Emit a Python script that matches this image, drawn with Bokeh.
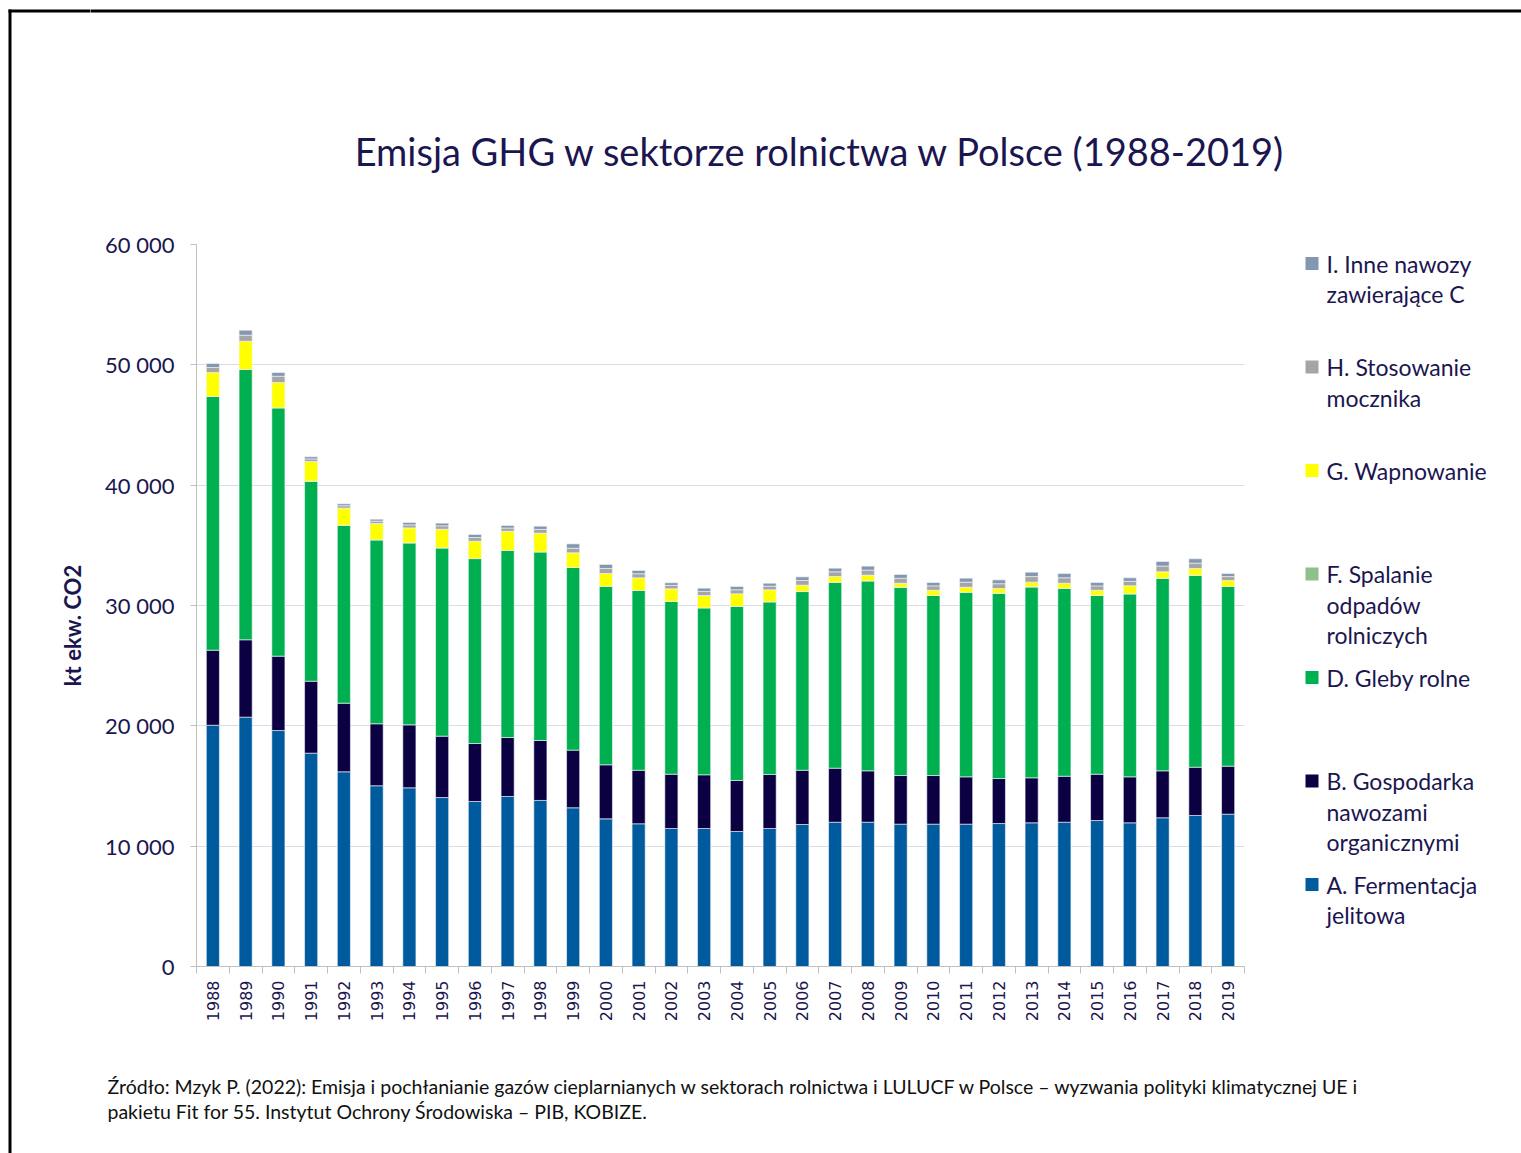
import math
from bokeh.plotting import figure
from bokeh.layouts import column, row
from bokeh.models import ColumnDataSource, FixedTicker, CustomJSTickFormatter, Range1d
from bokeh.core.properties import value
from bokeh.embed import file_html
from bokeh.resources import INLINE

# ---------------- data (kt CO2 eq.) ----------------
years = list(range(1988, 2020))
year_labels = [str(y) for y in years]

A_ferm = [20050, 20720, 19610, 17730, 16180, 15020, 14850, 14040, 13710, 14130, 13800, 13190,
          12270, 11860, 11470, 11470, 11220, 11470, 11800, 11990, 11990, 11830, 11830, 11830,
          11880, 11940, 11990, 12130, 11940, 12360, 12550, 12660]
B_manure = [6235, 6430, 6180, 5980, 5700, 5150, 5230, 5100, 4820, 4900, 4980, 4790,
            4490, 4450, 4510, 4460, 4240, 4490, 4510, 4490, 4270, 4040, 4040, 3930,
            3740, 3740, 3820, 3850, 3820, 3900, 4010, 3990]
D_soils = [21085, 22460, 20640, 16620, 14790, 15290, 15130, 15650, 15370, 15540, 15680, 15180,
           14840, 14940, 14350, 13880, 14460, 14350, 14850, 15460, 15790, 15650, 14960, 15350,
           15400, 15870, 15630, 14850, 15210, 16010, 15960, 14930]
F_burning = [0] * 32
G_liming = [1990, 2350, 2100, 1640, 1420, 1350, 1240, 1550, 1440, 1600, 1550, 1220,
            1060, 1050, 1060, 1020, 1050, 990, 530, 470, 470, 330, 440, 410,
            390, 390, 410, 440, 670, 530, 550, 500]
H_urea = [415, 500, 520, 210, 200, 200, 250, 280, 310, 270, 320, 380,
          420, 340, 280, 340, 340, 310, 390, 390, 420, 410, 360, 420,
          400, 460, 450, 360, 370, 480, 450, 320]
I_other = [335, 420, 310, 180, 160, 160, 200, 220, 250, 210, 260, 360,
           330, 270, 220, 270, 270, 240, 300, 300, 330, 320, 280, 330,
           320, 370, 360, 280, 290, 380, 360, 260]

series_keys = ["A", "B", "D", "F", "G", "H", "I"]
series_colors = ["#005A9E", "#0B0042", "#00B050", "#8DC08A", "#FFFF00", "#A5A5A5", "#8497B0"]
legend_texts = [
    ["I.  Inne nawozy", "zawierające C"],
    ["H. Stosowanie", "mocznika"],
    ["G. Wapnowanie"],
    ["F.  Spalanie", "odpadów", "rolniczych"],
    ["D.  Gleby rolne"],
    ["B.  Gospodarka", "nawozami", "organicznymi"],
    ["A.  Fermentacja", "jelitowa"],
]
legend_colors = ["#8497B0", "#A5A5A5", "#FFFF00", "#8DC08A", "#00B050", "#0B0042", "#005A9E"]
y_ticks = [0, 10000, 20000, 30000, 40000, 50000, 60000]

title_text = "Emisja GHG w sektorze rolnictwa w Polsce (1988-2019)"
y_label_text = "kt ekw. CO2"
source_lines = [
    "Źródło: Mzyk P. (2022): Emisja i pochłanianie gazów cieplarnianych w sektorach rolnictwa i LULUCF w Polsce – wyzwania polityki klimatycznej UE i",
    "pakietu Fit for 55. Instytut Ochrony Środowiska – PIB, KOBIZE.",
]

# ---------------- layout constants (page pixels) ----------------
W, H = 1521, 1153
STRIP_W = 90                      # left strip 0..90 (full height)
TOP_H, BOT_Y = 200, 1040          # top block 0..200, middle 200..1040, bottom 1040..1153
LEG_X = 1290                      # main 90..1290, legend 1290..1521
FL, FR, FT, FB = 196, 1244, 244, 966   # plot frame edges
NAVY = "#1B1650"
FONT = "Lato"


def canvas(w, h, x0, y0, bt=0, bb=0):
    """A figure whose frame fills its canvas, with page-pixel coordinates (y down)."""
    f = figure(width=w, height=h, output_backend="svg", toolbar_location=None,
               x_range=Range1d(x0, x0 + w), y_range=Range1d(y0 + h - bb, y0 + bt),
               x_axis_location=None, y_axis_location=None,
               min_border_left=0, min_border_right=0,
               min_border_top=bt, min_border_bottom=bb)
    f.title = None
    f.outline_line_color = None
    f.grid.grid_line_color = None
    f.background_fill_color = "white"
    f.border_fill_color = "white"
    return f


# ---------------- left strip: page border + y-axis title ----------------
strip = canvas(STRIP_W, H, 0, 0)
strip.quad(left=[8, 8], right=[STRIP_W + 5, 11], top=[9, 9], bottom=[12, H],
           fill_color="black", line_color=None)
strip.text(x=[72], y=[625], text=[y_label_text], text_font=value(FONT),
           text_font_size=value("22px"), text_font_style="bold", text_color=NAVY,
           text_align="center", text_baseline="middle", angle=math.pi / 2)

# ---------------- top block: title ----------------
top = canvas(W - STRIP_W, TOP_H, STRIP_W, 0)
top.quad(left=[STRIP_W - 5], right=[W + 5], top=[9], bottom=[12], fill_color="black", line_color=None)
top.text(x=[820], y=[150], text=[title_text], text_font=value(FONT),
         text_font_size=value("38px"), text_color=NAVY,
         text_align="center", text_baseline="middle")

# ---------------- main chart ----------------
src = ColumnDataSource(dict(year=years, A=A_ferm, B=B_manure, D=D_soils, F=F_burning,
                            G=G_liming, H=H_urea, I=I_other))

p = figure(width=LEG_X - STRIP_W, height=BOT_Y - TOP_H, output_backend="svg", toolbar_location=None,
           x_range=Range1d(years[0] - 0.5, years[-1] + 0.5),
           y_range=Range1d(0, 60000),
           min_border_left=FL - STRIP_W, min_border_right=LEG_X - FR,
           min_border_top=FT - TOP_H, min_border_bottom=BOT_Y - FB)
p.title = None
p.outline_line_color = None
p.background_fill_color = "white"
p.border_fill_color = "white"

p.vbar_stack(series_keys, x="year", width=0.4, source=src, color=series_colors,
             line_color="#F4F6FA", line_width=0.6)

p.xgrid.grid_line_color = None
p.ygrid.grid_line_color = "#DCDCE8"
p.ygrid.grid_line_width = 1
p.ygrid.ticker = FixedTicker(ticks=y_ticks)

p.yaxis.ticker = FixedTicker(ticks=y_ticks)
p.yaxis.formatter = CustomJSTickFormatter(
    code="return tick.toFixed(0).replace(/\\B(?=(\\d{3})+(?!\\d))/g, ' ');")
p.yaxis.axis_line_color = "#BFBFBF"
p.yaxis.major_tick_line_color = "#BFBFBF"
p.yaxis.major_tick_in = 0
p.yaxis.major_tick_out = 6
p.yaxis.minor_tick_line_color = None
p.yaxis.major_label_text_font = FONT
p.yaxis.major_label_text_font_size = "22px"
p.yaxis.major_label_text_color = NAVY
p.yaxis.major_label_standoff = 16

p.xaxis.ticker = FixedTicker(ticks=years, minor_ticks=[y - 0.5 for y in years] + [years[-1] + 0.5])
p.xaxis.major_label_overrides = {y: s for y, s in zip(years, year_labels)}
p.xaxis.axis_line_color = "#BFBFBF"
p.xaxis.major_tick_line_color = None
p.xaxis.minor_tick_line_color = "#BFBFBF"
p.xaxis.minor_tick_in = 0
p.xaxis.minor_tick_out = 7
p.xaxis.major_label_orientation = math.pi / 2
p.xaxis.major_label_text_font = "DejaVu Sans"
p.xaxis.major_label_text_font_size = "16px"
p.xaxis.major_label_text_color = NAVY
p.xaxis.major_label_standoff = 7

# ---------------- legend block (frame aligned with the main frame) ----------------
leg = canvas(W - LEG_X, BOT_Y - TOP_H, LEG_X, TOP_H, bt=FT - TOP_H, bb=BOT_Y - FB)
item_y0, item_step, line_step = 263, 103.5, 30.5
sq_l, sq_r, sq_t, sq_b, tx, ty, tt = [], [], [], [], [], [], []
for i, lines in enumerate(legend_texts):
    yc = item_y0 + i * item_step
    sq_l.append(1305); sq_r.append(1318); sq_t.append(yc - 6.5); sq_b.append(yc + 6.5)
    for j, t in enumerate(lines):
        tx.append(1326); ty.append(yc + j * line_step); tt.append(t)
leg.quad(left=sq_l, right=sq_r, top=sq_t, bottom=sq_b, fill_color=legend_colors, line_color=None)
leg.text(x=tx, y=ty, text=tt, text_font=value(FONT), text_font_size=value("23px"),
         text_color=NAVY, text_align="left", text_baseline="middle")

# ---------------- bottom block: source ----------------
bot = canvas(W - STRIP_W, H - BOT_Y, STRIP_W, BOT_Y)
bot.text(x=[107, 107], y=[1086, 1111], text=source_lines, text_font=value(FONT),
         text_font_size=value("19.5px"), text_color="#111111",
         text_align="left", text_baseline="middle")

layout = row(strip, column(top, row(p, leg), bot))
open("out.html", "w").write(file_html(layout, INLINE))
